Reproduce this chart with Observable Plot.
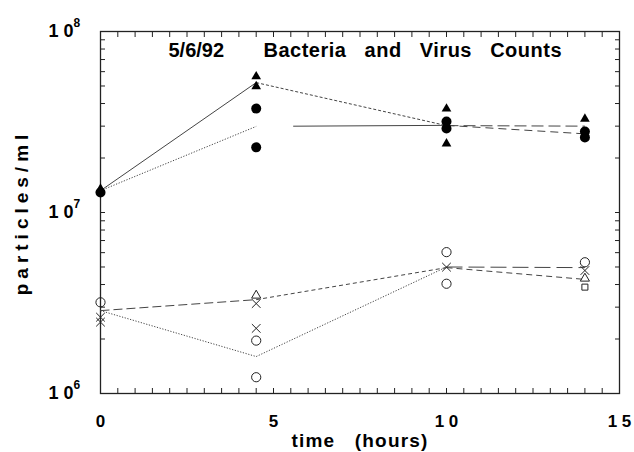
<!DOCTYPE html>
<html><head><meta charset="utf-8">
<script src="https://cdn.jsdelivr.net/npm/d3@7"></script>
<script src="https://cdn.jsdelivr.net/npm/@observablehq/plot@0.6"></script>
<style>
html,body{margin:0;padding:0;background:#fff;}
#chart svg{font-family:"Liberation Sans",Arial,Helvetica,sans-serif;}
#chart text{white-space:pre;}
</style></head><body><div id="chart"></div>
<script>
// ---- data ----
const titleDate = "5/6/92";
const titleText = "Bacteria   and   Virus   Counts";
const xTitle = "time   (hours)";
const yTitle = "particles/ml";
const xTickValues = [0, 5, 10, 15];
const xTickLabels = ["0", "5", "1 0", "1 5"];
const yTickValues = [1e6, 1e7, 1e8];
const yTickBase = "1 0";
const yTickExp = ["6", "7", "8"];

// sampling times (hours) for the connecting lines
const times = [0, 4.5, 10, 14];
// lines (means) through each series
const bactTriLine = [1.32e7, 5.22e7, 3.02e7, 3.0e7];
const bactCircLine = [1.32e7, 2.99e7, 3.03e7, 2.72e7];
const virDashLine = [2.87e6, 3.30e6, 4.96e6, 4.27e6];
const virDotLine = [2.87e6, 1.60e6, 5.0e6, 4.96e6];

// individual counts
const bactTriT = [0, 4.5, 4.5, 10, 10, 14];
const bactTriV = [1.35e7, 5.64e7, 4.97e7, 3.74e7, 2.40e7, 3.29e7];
const bactCircT = [0, 4.5, 4.5, 10, 10, 14, 14];
const bactCircV = [1.29e7, 3.75e7, 2.29e7, 3.18e7, 2.91e7, 2.80e7, 2.60e7];
const virCircT = [0, 4.5, 4.5, 10, 10, 14];
const virCircV = [3.19e6, 1.96e6, 1.23e6, 6.04e6, 4.04e6, 5.31e6];
const virXT = [0, 0, 4.5, 4.5, 10, 14];
const virXV = [2.64e6, 2.48e6, 3.14e6, 2.29e6, 4.99e6, 4.78e6];
const virTriT = [4.5, 14];
const virTriV = [3.48e6, 4.32e6];
const virSqT = [14];
const virSqV = [3.87e6];

// ---- build ----
const pts = (T, V) => T.map((t, i) => ({t, v: V[i]}));
const segs = (vals) => times.slice(1).map((t, i) => ({x1: times[i], x2: t, y1: vals[i], y2: vals[i + 1]}));

const lineStyles = [
  [bactTriLine, ["none", "3,2", "12,5"]],
  [bactCircLine, ["1.2,1.6", "0,37,1000", "8,5"]],
  [virDashLine, ["9,4", "4,3", "6,4"]],
  [virDotLine, ["1.2,1.6", "1.2,1.6", "16,6"]]
];
const lineMarks = [];
for (const [vals, dashes] of lineStyles) {
  segs(vals).forEach((s, i) => {
    lineMarks.push(Plot.link([s], {x1: "x1", x2: "x2", y1: "y1", y2: "y2",
      stroke: "#444", strokeWidth: 1, strokeDasharray: dashes[i]}));
  });
}

const xMinor = d3.range(0.5, 15, 0.5);
const yMinor = [];
for (const dec of [1e6, 1e7]) for (let k = 1; k <= 9; k++) if (!(dec === 1e6 && k === 1)) yMinor.push(dec * k);

const font = {fontFamily: "'Liberation Sans', Arial, Helvetica, sans-serif", fontWeight: "bold", fill: "#000"};

const chart = Plot.plot({
  width: 634, height: 452,
  marginLeft: 100, marginRight: 15, marginTop: 31, marginBottom: 59,
  style: {background: "#fff", color: "#000", fontFamily: "'Liberation Sans', Arial, sans-serif"},
  x: {domain: [0, 15]},
  y: {type: "log", domain: [1e6, 1e8]},
  marks: [
    Plot.axisX(xMinor, {anchor: "bottom", tickSize: -5, tickFormat: () => "", label: null, stroke: "#222"}),
    Plot.axisX(xMinor, {anchor: "top", tickSize: -5, tickFormat: () => "", label: null, stroke: "#222"}),
    Plot.axisY(yMinor, {anchor: "left", tickSize: -5, tickFormat: () => "", label: null, stroke: "#222"}),
    Plot.axisY(yMinor, {anchor: "right", tickSize: -5, tickFormat: () => "", label: null, stroke: "#222"}),
    Plot.frame({stroke: "#222", strokeWidth: 1.3}),
    Plot.text(xTickValues, {x: d => d, frameAnchor: "bottom", dy: 28, lineAnchor: "middle", text: (d, i) => xTickLabels[i], fontSize: 17, ...font}),
    Plot.text(yTickValues, {y: d => d, frameAnchor: "left", dx: -27, dy: 0, textAnchor: "end", lineAnchor: "middle", text: () => yTickBase, fontSize: 18, ...font}),
    Plot.text(yTickValues, {y: d => d, frameAnchor: "left", dx: -27, dy: -8, textAnchor: "start", lineAnchor: "middle", text: (d, i) => yTickExp[i], fontSize: 12, ...font}),
    Plot.text([xTitle], {frameAnchor: "bottom", dy: 47, textAnchor: "middle", lineAnchor: "middle", text: d => d, fontSize: 19, ...font}),
    Plot.text([yTitle], {frameAnchor: "left", dx: -79, rotate: -90, textAnchor: "middle", lineAnchor: "middle", text: d => d, fontSize: 19, ...font}),
    Plot.text([titleDate], {frameAnchor: "top-left", dx: 68, dy: 19, textAnchor: "start", lineAnchor: "middle", text: d => d, fontSize: 20, ...font}),
    Plot.text([titleText], {frameAnchor: "top-left", dx: 163, dy: 19, textAnchor: "start", lineAnchor: "middle", text: d => d, fontSize: 20, ...font}),
    ...lineMarks,
    Plot.dot(pts(bactCircT, bactCircV), {x: "t", y: "v", r: 5, fill: "#000", stroke: "none"}),
    Plot.dot(pts(bactTriT, bactTriV), {x: "t", y: "v", r: 3.6, symbol: "triangle", fill: "#000", stroke: "none"}),
    Plot.dot(pts(virCircT, virCircV), {x: "t", y: "v", r: 4.6, fill: "none", stroke: "#222", strokeWidth: 1}),
    Plot.dot(pts(virXT, virXV), {x: "t", y: "v", r: 4, symbol: "times", stroke: "#222", strokeWidth: 1}),
    Plot.dot(pts(virTriT, virTriV), {x: "t", y: "v", r: 3.4, symbol: "triangle", fill: "none", stroke: "#222", strokeWidth: 1}),
    Plot.dot(pts(virSqT, virSqV), {x: "t", y: "v", r: 3.4, symbol: "square", fill: "none", stroke: "#222", strokeWidth: 1})
  ]
});
document.getElementById("chart").appendChild(chart);
const sel = (s) => d3.select(chart).selectAll("text").filter(function () { return this.textContent === s; });
sel(yTitle).style("letter-spacing", "5px");
sel(xTitle).style("letter-spacing", "1.2px");
sel(titleText).style("letter-spacing", "0.5px");
</script></body></html>
